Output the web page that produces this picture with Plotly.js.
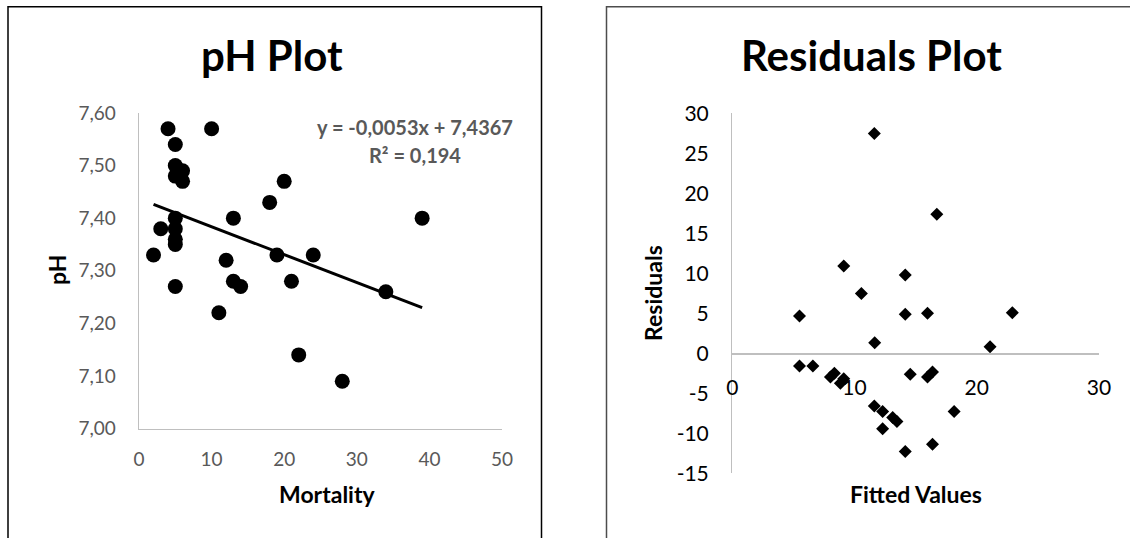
<!DOCTYPE html>
<html>
<head>
<meta charset="utf-8">
<script src="https://cdn.plot.ly/plotly-3.0.1.min.js"></script>
<style>html,body{margin:0;padding:0;background:#fff;}#chart{width:1130px;height:538px;}</style>
</head>
<body>
<div id="chart"></div>
<script>
// ---- Data: pH plot ----
const mortality = [4, 10, 5, 5, 6, 5, 6, 20, 18, 13, 5, 3, 5, 5, 5, 2, 19, 24, 12, 13, 14, 21, 5, 34, 39, 11, 22, 28];
const ph = [7.57, 7.57, 7.54, 7.50, 7.49, 7.48, 7.47, 7.47, 7.43, 7.40, 7.40, 7.38, 7.38, 7.36, 7.35, 7.33, 7.33, 7.33, 7.32, 7.28, 7.27, 7.28, 7.27, 7.26, 7.40, 7.22, 7.14, 7.09];
const trendSlope = -0.0053;
const trendIntercept = 7.4367;
const trendXRange = [2, 39];
const trendLabel = "y = -0,0053x + 7,4367";
const r2Label = "R² = 0,194";
const phTickVals = [7.00, 7.10, 7.20, 7.30, 7.40, 7.50, 7.60];
const phTickText = ["7,00", "7,10", "7,20", "7,30", "7,40", "7,50", "7,60"];
const mortTickVals = [0, 10, 20, 30, 40, 50];

// ---- Data: residuals plot ----
const fitted = [11.62, 16.73, 9.12, 14.15, 10.56, 5.50, 14.15, 15.97, 22.91, 11.65, 21.09, 5.50, 6.59, 8.35, 8.03, 9.12, 8.84, 14.56, 16.38, 15.97, 11.62, 12.30, 13.12, 13.47, 18.15, 12.30, 14.15, 16.38];
const residuals = [27.46, 17.38, 10.92, 9.79, 7.46, 4.67, 4.88, 5.00, 5.08, 1.33, 0.83, -1.58, -1.58, -2.50, -2.96, -3.17, -3.75, -2.63, -2.33, -2.96, -6.58, -7.29, -8.04, -8.54, -7.29, -9.42, -12.29, -11.38];
const resTickVals = [-15, -10, -5, 0, 5, 10, 15, 20, 25, 30];
const resTickText = ["-15", "-10", "-5", "0", "5", "10", "15", "20", "25", "30"];
const fitTickVals = [0, 10, 20, 30];

// ---- Layout helpers ----
const W = 1130, H = 538;
const px = v => v / W;
const py = v => 1 - v / H;
const FONT = "Lato, 'Open Sans', sans-serif";

const trendY = trendXRange.map(x => trendSlope * x + trendIntercept);

const traces = [
  { x: mortality, y: ph, type: "scatter", mode: "markers", xaxis: "x", yaxis: "y",
    marker: { symbol: "circle", size: 15, color: "#000" }, hoverinfo: "x+y" },
  { x: trendXRange, y: trendY, type: "scatter", mode: "lines", xaxis: "x", yaxis: "y",
    line: { color: "#000", width: 3 }, hoverinfo: "skip" },
  { x: fitted, y: residuals, type: "scatter", mode: "markers", xaxis: "x2", yaxis: "y2",
    marker: { symbol: "diamond", size: 10, color: "#000" }, hoverinfo: "x+y" }
];

const y0Pos = 353.3; // pixel of residual 0
const layout = {
  width: W, height: H,
  margin: { l: 0, r: 0, t: 0, b: 0 },
  paper_bgcolor: "#fff", plot_bgcolor: "#fff",
  showlegend: false,
  font: { family: FONT },
  xaxis: {
    domain: [px(139), px(502)], range: [0, 50], anchor: "y",
    tickvals: mortTickVals, ticks: "", ticklabelstandoff: 13,
    showline: true, linecolor: "#BFBFBF", linewidth: 1.3,
    showgrid: false, zeroline: false,
    tickfont: { family: FONT, size: 19, color: "#595959" }
  },
  yaxis: {
    domain: [py(428.5), py(113)], range: [7.0, 7.6], anchor: "x",
    tickvals: phTickVals, ticktext: phTickText, ticks: "", ticklabelstandoff: 18,
    showline: true, linecolor: "#BFBFBF", linewidth: 1.3,
    showgrid: false, zeroline: false,
    tickfont: { family: FONT, size: 19, color: "#595959" }
  },
  xaxis2: {
    domain: [px(732.3), px(1099)], range: [0, 30], anchor: "free", position: py(y0Pos),
    tickvals: fitTickVals, ticks: "", ticklabelstandoff: 15,
    showline: true, linecolor: "#BFBFBF", linewidth: 1.3,
    showgrid: false, zeroline: false,
    tickfont: { family: FONT, size: 21, color: "#000" }
  },
  yaxis2: {
    domain: [py(473.3), py(113.3)], range: [-15, 30], anchor: "x2",
    tickvals: resTickVals, ticktext: resTickText, ticks: "", ticklabelstandoff: 18,
    showline: true, linecolor: "#BFBFBF", linewidth: 1.3,
    showgrid: false, zeroline: false,
    tickfont: { family: FONT, size: 21, color: "#000" }
  },
  shapes: [
    { type: "rect", xref: "paper", yref: "paper", x0: px(8), x1: px(541.5), y0: -0.2, y1: py(6.7),
      line: { color: "#000", width: 1.5 }, fillcolor: "rgba(0,0,0,0)", layer: "below" },
    { type: "rect", xref: "paper", yref: "paper", x0: px(606.5), x1: 1.2, y0: -0.2, y1: py(6.7),
      line: { color: "#4d4d4d", width: 1.5 }, fillcolor: "rgba(0,0,0,0)", layer: "below" }
  ],
  annotations: [
    { text: "<b>pH Plot</b>", xref: "paper", yref: "paper", x: px(272), y: py(55), xanchor: "center", yanchor: "middle",
      showarrow: false, font: { family: FONT, size: 42, color: "#000" } },
    { text: "<b>Residuals Plot</b>", xref: "paper", yref: "paper", x: px(871), y: py(55), xanchor: "center", yanchor: "middle",
      showarrow: false, font: { family: FONT, size: 42, color: "#000" } },
    { text: "<b>Mortality</b>", xref: "paper", yref: "paper", x: px(327), y: py(494), xanchor: "center", yanchor: "middle",
      showarrow: false, font: { family: FONT, size: 23, color: "#000" } },
    { text: "<b>Fitted Values</b>", xref: "paper", yref: "paper", x: px(916), y: py(494), xanchor: "center", yanchor: "middle",
      showarrow: false, font: { family: FONT, size: 23, color: "#000" } },
    { text: "<b>pH</b>", xref: "paper", yref: "paper", x: px(57), y: py(270), xanchor: "center", yanchor: "middle",
      textangle: -90, showarrow: false, font: { family: FONT, size: 23, color: "#000" } },
    { text: "<b>Residuals</b>", xref: "paper", yref: "paper", x: px(653), y: py(293), xanchor: "center", yanchor: "middle",
      textangle: -90, showarrow: false, font: { family: FONT, size: 23, color: "#000" } },
    { text: "<b>" + trendLabel + "</b>", xref: "paper", yref: "paper", x: px(415), y: py(127), xanchor: "center", yanchor: "middle",
      showarrow: false, font: { family: FONT, size: 20, color: "#595959" } },
    { text: "<b>" + r2Label + "</b>", xref: "paper", yref: "paper", x: px(415), y: py(155), xanchor: "center", yanchor: "middle",
      showarrow: false, font: { family: FONT, size: 20, color: "#595959" } }
  ]
};

Plotly.newPlot("chart", traces, layout, { staticPlot: true, displayModeBar: false });
</script>
</body>
</html>
